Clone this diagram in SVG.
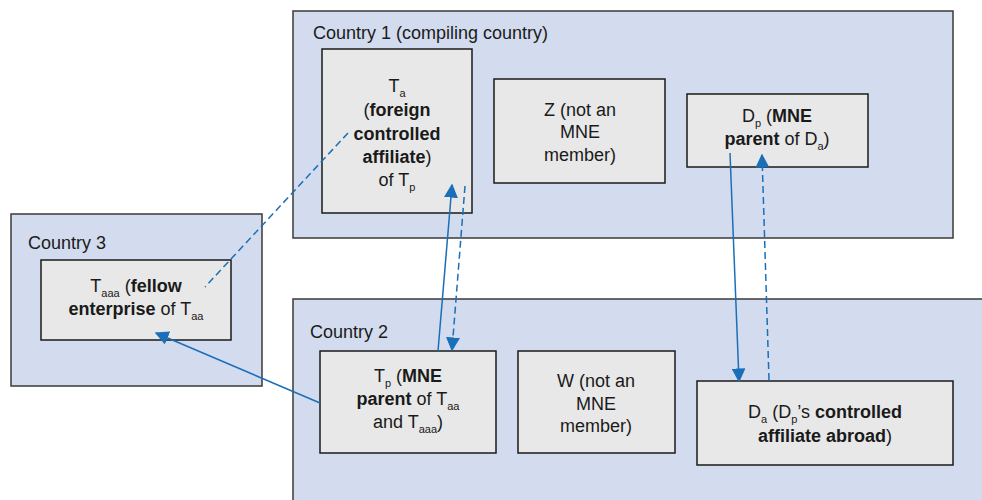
<svg xmlns="http://www.w3.org/2000/svg" width="982" height="500" viewBox="0 0 982 500">
  <defs>
    <style>
      .country { fill: #d3dcee; stroke: #3a3a3a; stroke-width: 1.5; }
      .node { fill: #e8e8e8; stroke: #1a1a1a; stroke-width: 1.5; }
      text { font-family: "Liberation Sans Narrow", "Liberation Sans", Arial, sans-serif; font-size: 18px; fill: #1a1a1a; }
      .c { text-anchor: middle; }
      .b { font-weight: bold; }
      .s { font-size: 11px; }
      .link { fill: none; stroke: #1a6fb8; stroke-width: 1.5; }
      .dash { stroke-dasharray: 7 4; }
    </style>
    <marker id="arrow" viewBox="0 0 10 10" refX="9" refY="5" markerWidth="10" markerHeight="10" markerUnits="userSpaceOnUse" orient="auto">
      <path d="M0,0 L10,5 L0,10 z" fill="#1a6fb8"/>
    </marker>
    <marker id="arrowL" viewBox="0 0 10 10" refX="9" refY="5" markerWidth="14" markerHeight="14" markerUnits="userSpaceOnUse" orient="auto">
      <path d="M0,0 L10,5 L0,10 z" fill="#1a6fb8"/>
    </marker>
  </defs>

  <!-- country containers -->
  <g id="country1">
    <rect class="country" x="293" y="11" width="660" height="227"/>
    <text x="313" y="39">Country 1 (compiling country)</text>
  </g>
  <g id="country2">
    <rect class="country" x="293" y="299" width="700" height="210"/>
    <text x="310" y="338">Country 2</text>
  </g>
  <g id="country3">
    <rect class="country" x="11" y="214" width="251" height="172"/>
    <text x="28" y="249">Country 3</text>
  </g>

  <!-- enterprises -->
  <g id="Ta">
    <rect class="node" x="322" y="49" width="150" height="164"/>
    <text class="c" x="397" y="92">T<tspan class="s" dy="5">a</tspan></text>
    <text class="c" x="397" y="116">(<tspan class="b">foreign</tspan></text>
    <text class="c b" x="397" y="140">controlled</text>
    <text class="c" x="397" y="163"><tspan class="b">affiliate</tspan>)</text>
    <text class="c" x="397" y="186">of T<tspan class="s" dy="5">p</tspan></text>
  </g>
  <g id="Z">
    <rect class="node" x="494" y="79" width="171" height="104"/>
    <text class="c" x="580" y="116">Z (not an</text>
    <text class="c" x="580" y="138">MNE</text>
    <text class="c" x="580" y="161">member)</text>
  </g>
  <g id="Dp">
    <rect class="node" x="687" y="94" width="181" height="73"/>
    <text class="c" x="777" y="122">D<tspan class="s" dy="5">p</tspan><tspan dy="-5"> (</tspan><tspan class="b">MNE</tspan></text>
    <text class="c" x="777" y="145"><tspan class="b">parent</tspan> of D<tspan class="s" dy="5">a</tspan><tspan dy="-5">)</tspan></text>
  </g>
  <g id="Taaa">
    <rect class="node" x="41" y="260" width="190" height="80"/>
    <text class="c" x="136" y="292">T<tspan class="s" dy="5">aaa</tspan><tspan dy="-5"> (</tspan><tspan class="b">fellow</tspan></text>
    <text class="c" x="136" y="315"><tspan class="b">enterprise</tspan> of T<tspan class="s" dy="5">aa</tspan></text>
  </g>
  <g id="Tp">
    <rect class="node" x="320" y="351" width="176" height="102"/>
    <text class="c" x="408" y="382">T<tspan class="s" dy="5">p</tspan><tspan dy="-5"> (</tspan><tspan class="b">MNE</tspan></text>
    <text class="c" x="408" y="405"><tspan class="b">parent</tspan> of T<tspan class="s" dy="5">aa</tspan></text>
    <text class="c" x="408" y="428">and T<tspan class="s" dy="5">aaa</tspan><tspan dy="-5">)</tspan></text>
  </g>
  <g id="W">
    <rect class="node" x="518" y="351" width="157" height="102"/>
    <text class="c" x="596" y="387">W (not an</text>
    <text class="c" x="596" y="410">MNE</text>
    <text class="c" x="596" y="432">member)</text>
  </g>
  <g id="Da">
    <rect class="node" x="697" y="381" width="256" height="84"/>
    <text class="c" x="825" y="418">D<tspan class="s" dy="5">a</tspan><tspan dy="-5"> (D</tspan><tspan class="s" dy="5">p</tspan><tspan dy="-5">’s </tspan><tspan class="b">controlled</tspan></text>
    <text class="c" x="825" y="442"><tspan class="b">affiliate abroad</tspan>)</text>
  </g>

  <!-- ownership links -->
  <g id="connectors">
    <line class="link" x1="438" y1="351" x2="452" y2="185" marker-end="url(#arrowL)"/>
    <line class="link dash" x1="465" y1="186" x2="452" y2="350" marker-end="url(#arrowL)"/>
    <line class="link" x1="730" y1="153" x2="739" y2="381" marker-end="url(#arrowL)"/>
    <line class="link dash" x1="769" y1="380" x2="762" y2="155" marker-end="url(#arrowL)"/>
    <line class="link dash" x1="348" y1="133" x2="205" y2="287"/>
    <line class="link" x1="320" y1="403" x2="156" y2="333" marker-end="url(#arrowL)"/>
  </g>
</svg>
